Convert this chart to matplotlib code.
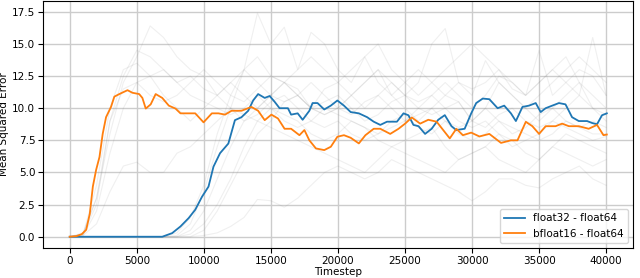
import numpy as np
import matplotlib.pyplot as plt

# float32 - float64 (blue)
f32_x = [0, 2000, 4000, 6000, 6900, 7640, 8260, 8870, 9360, 9860, 10350, 10720, 11210, 11830,
         12320, 12810, 13310, 13680, 14050, 14540, 14910, 15280, 15650, 16270, 16510, 17000,
         17370, 17870, 18110, 18480, 18980, 19470, 19960, 20450, 20950, 21560, 22180, 22670,
         23160, 23660, 24400, 24890, 25260, 25630, 26010, 26500, 26990, 27480, 27970, 28470,
         28830, 29450, 29940, 30310, 30800, 31290, 31910, 32400, 32900, 33270, 33760, 34250,
         34750, 35120, 35490, 35980, 36480, 36970, 37460, 37960, 38580, 38950, 39320, 39690, 40050]
f32_y = [0, 0, 0, 0, 0, 0.28, 0.8, 1.45, 2.1, 3.1, 3.9, 5.45, 6.5, 7.25,
         9.07, 9.3, 9.8, 10.6, 11.1, 10.8, 10.95, 10.5, 10.0, 10.0, 9.5, 9.6,
         9.1, 9.8, 10.4, 10.4, 9.9, 10.2, 10.6, 10.2, 9.7, 9.6, 9.3, 8.95,
         8.7, 8.95, 8.95, 9.6, 9.45, 8.7, 8.6, 8.0, 8.4, 9.1, 9.46, 8.6,
         8.3, 8.4, 9.6, 10.4, 10.75, 10.7, 10.0, 10.2, 9.6, 9.0, 10.1, 10.2,
         10.4, 9.7, 10.0, 10.2, 10.4, 10.3, 9.3, 9.0, 9.0, 8.85, 8.75, 9.45, 9.6]

# bfloat16 - float64 (orange)
bf16_x = [0, 500, 900, 1230, 1500, 1725, 1970, 2220, 2460, 2710, 3080, 3330, 3700, 4310, 4680, 5180,
          5420, 5670, 6040, 6410, 6900, 7390, 7890, 8260, 8870, 9360, 9980, 10600, 11090,
          11580, 12070, 12810, 13550, 14050, 14540, 15040, 15530, 16020, 16510, 17130, 17500,
          17870, 18360, 18980, 19470, 19960, 20450, 20950, 21560, 22050, 22670, 23160, 23900,
          24520, 25010, 25510, 26130, 26740, 27360, 27850, 28340, 28830, 29320, 29940, 30550,
          31290, 32160, 32900, 33390, 34010, 34500, 35000, 35490, 36230, 36720, 37220, 37960,
          38700, 39320, 39800, 40050]
bf16_y = [0, 0.05, 0.2, 0.54, 1.8, 3.9, 5.2, 6.2, 8.0, 9.3, 10.1, 10.9, 11.1, 11.4, 11.2, 11.1,
          10.8, 9.97, 10.3, 11.1, 10.8, 10.2, 9.97, 9.6, 9.6, 9.6, 8.9, 9.6, 9.6,
          9.5, 9.8, 9.8, 10.1, 9.8, 9.07, 9.5, 9.2, 8.4, 8.4, 7.9, 8.3,
          7.5, 6.87, 6.74, 7.0, 7.78, 7.9, 7.7, 7.26, 7.9, 8.4, 8.4, 8.0,
          8.4, 8.8, 9.28, 8.8, 9.1, 8.95, 8.3, 7.65, 8.4, 7.9, 8.1, 7.8,
          8.0, 7.3, 7.5, 7.5, 8.94, 8.6, 8.0, 8.6, 8.6, 8.8, 8.6, 8.6,
          8.4, 8.7, 7.9, 7.95]

# individual runs (gray), sampled every 1000 steps
runs_x = list(range(0, 40001, 1000))
runs = [
    [0, 0.3, 3, 8, 12, 14, 16.4, 15.5, 14, 13, 12.5, 11, 12, 11, 10, 11, 12, 11.5, 10, 9.5, 10,
     11, 12, 13, 11, 10, 9, 10, 11, 10.5, 9, 10, 12, 11, 10, 9, 10, 11, 12, 10, 9],
    [0, 0.2, 2.5, 9, 12.5, 14.5, 14, 13, 12, 11, 10.5, 10, 9.5, 10, 11, 10, 9, 8.5, 9, 10, 9.5,
     9, 8.5, 8, 9, 9.5, 8.5, 8, 9, 8, 7.5, 8, 9, 8.5, 8, 7.5, 8, 9, 8.5, 8, 8],
    [0, 0.1, 1, 3.5, 5.5, 5.8, 5, 5, 6.5, 7, 8, 9, 10, 9.5, 9, 8.5, 8, 7.5, 7, 6.5, 6,
     5.5, 5, 6, 7, 6.5, 6, 5.5, 5, 6, 6.5, 7, 6, 5.5, 5, 6, 7, 6.5, 6, 5.5, 6],
    [0, 0.2, 4, 10, 13, 13.5, 12.5, 13, 12, 12.5, 11.5, 11, 12, 13, 12, 11, 10.5, 11, 12, 11, 10,
     9.5, 10.5, 11, 10, 9, 9.5, 10, 9, 8.5, 9, 10, 9, 8, 8.5, 9.5, 10, 9, 8.5, 9, 8.5],
    [0, 0.1, 2, 6.5, 10, 12, 12.5, 11, 10, 9, 10, 11, 10, 9, 9.5, 10.5, 11, 10, 9, 8.5, 9,
     8, 7.5, 8, 8.5, 9, 10, 11, 10, 9, 8.5, 9, 8, 7, 7.5, 8, 9, 8.5, 8, 7.5, 7.8],
    [0, 0, 0, 0, 0, 0, 0, 0, 0.3, 1.5, 4, 8, 11, 13, 14, 12.5, 12, 13, 14, 13, 12,
     13, 14, 12, 11, 12, 13, 12, 11, 12, 11.5, 12, 13, 11.5, 11, 12, 13, 12, 11, 15.5, 11],
    [0, 0, 0, 0, 0, 0, 0, 0, 0.1, 1, 3.5, 7, 10, 13, 17.4, 15, 16.3, 13, 15.9, 15, 13,
     12, 14, 15, 13, 12, 11, 12, 13, 14, 15, 14, 13, 12, 11, 12, 13, 14, 12, 11, 10],
    [0, 0, 0, 0, 0, 0, 0, 0, 0, 0, 0.1, 0.3, 0.8, 1.5, 2.9, 2.8, 2.3, 3, 4, 5, 5.5,
     5, 4.5, 5, 6, 5.5, 5, 4.5, 4, 3.5, 2.8, 3.5, 4.5, 4.5, 4, 3.8, 4.5, 5, 5.5, 4.5, 4],
    [0, 0, 0, 0, 0, 0, 0, 0, 0, 0.5, 2, 4.5, 7, 9, 10, 11, 12, 11, 10, 9.5, 10,
     11, 12, 13, 12, 11, 12, 15, 16.2, 12, 11, 13.7, 12, 11, 10, 11, 12, 13, 14, 13, 12],
    [0, 0, 0, 0, 0, 0, 0, 0, 0, 0.2, 1, 2.5, 4.5, 7, 9, 10, 9.5, 9, 8, 7.5, 8,
     9, 8.5, 7.5, 7, 7.5, 8, 8.5, 7, 6, 6.5, 7, 8, 7.5, 6.5, 6, 7, 8, 7.5, 7, 6.5],
    [0, 0, 0, 0, 0, 0, 0, 0, 0, 0, 0.5, 2, 4, 6, 8, 9, 10.5, 11, 10, 11.5, 12,
     11, 10, 11, 12, 11, 10.5, 11, 12, 11, 10, 11, 12.5, 12, 11, 14.5, 11, 12, 13, 12.5, 11],
    [0, 0.2, 3, 9, 11.5, 12, 11, 10.5, 11, 12, 13, 12, 11, 10.5, 11.5, 12.5, 12, 11, 10, 10.5, 11,
     10, 9, 9.5, 10.5, 11, 10, 9.5, 10, 10.5, 9, 8.5, 9.5, 10, 9, 8.5, 9, 10, 11, 10, 9.5],
]

fig = plt.figure(figsize=(6.4, 2.78), dpi=100)
ax = fig.add_axes([0.067, 0.108, 0.922, 0.89])

for r in runs:
    ax.plot(runs_x, r, color="gray", alpha=0.12, linewidth=0.8)

ax.plot(f32_x, f32_y, color="#1f77b4", linewidth=1.3, label="float32 - float64")
ax.plot(bf16_x, bf16_y, color="#ff7f0e", linewidth=1.3, label="bfloat16 - float64")

ax.set_xticks([0, 5000, 10000, 15000, 20000, 25000, 30000, 35000, 40000])
ax.set_yticks([0.0, 2.5, 5.0, 7.5, 10.0, 12.5, 15.0, 17.5])
ax.set_xlim(-2000, 42000)
ax.set_ylim(-0.875, 18.375)
ax.tick_params(labelsize=7.5, pad=2)
ax.grid(True, color="#cccccc", linewidth=1)
ax.set_axisbelow(True)
ax.set_xlabel("Timestep", fontsize=7.5, labelpad=1)
ax.set_ylabel("Mean Squared Error", fontsize=7.5)
ax.yaxis.set_label_coords(-0.058, 0.5)
ax.legend(loc="lower right", fontsize=7.5)

fig.savefig("out.png", dpi=100)
